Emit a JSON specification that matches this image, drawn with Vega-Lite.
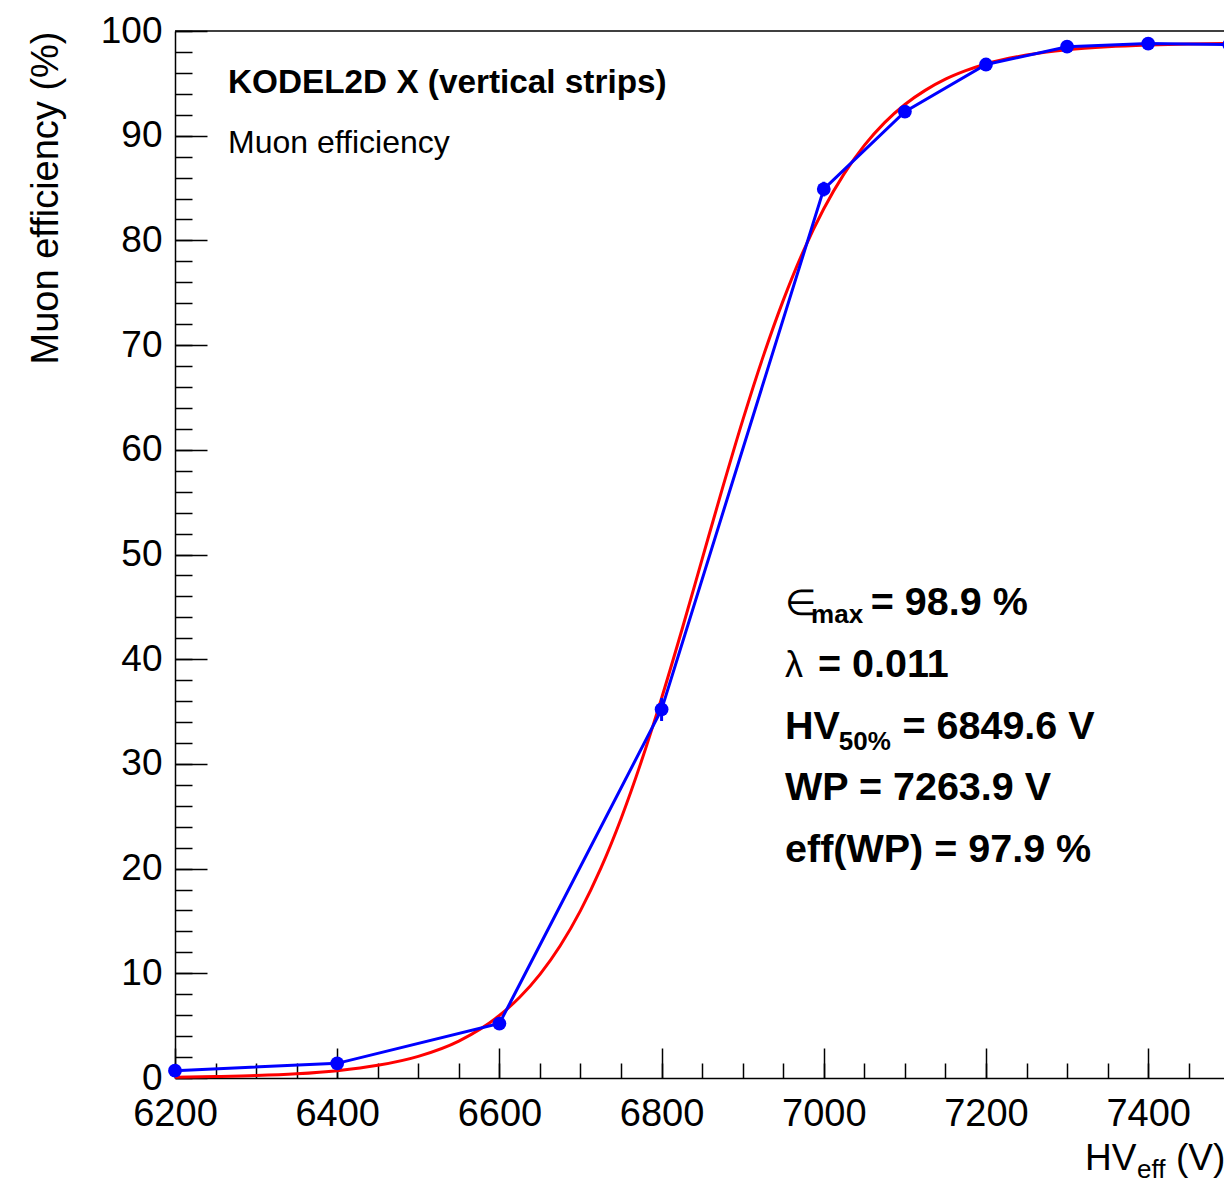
{
  "$schema": "https://vega.github.io/schema/vega-lite/v6.json",
  "autosize": "none",
  "width": 1049,
  "height": 1047,
  "padding": {"left": 175, "top": 31, "right": 0, "bottom": 104},
  "background": "white",
  "config": {
    "view": {"stroke": null},
    "font": "Liberation Sans",
    "axis": {"labelColor": "black", "titleColor": "black", "tickColor": "black", "domainColor": "black", "grid": false}
  },
  "datasets": {
    "fit": [
      {"hv": 6200, "eff": 0.08}, {"hv": 6250, "eff": 0.14}, {"hv": 6300, "eff": 0.23}, {"hv": 6350, "eff": 0.40},
      {"hv": 6400, "eff": 0.70}, {"hv": 6450, "eff": 1.21}, {"hv": 6500, "eff": 2.07}, {"hv": 6550, "eff": 3.53},
      {"hv": 6600, "eff": 5.97}, {"hv": 6625, "eff": 7.71}, {"hv": 6650, "eff": 9.90}, {"hv": 6675, "eff": 12.63},
      {"hv": 6700, "eff": 15.99}, {"hv": 6725, "eff": 20.02}, {"hv": 6750, "eff": 24.77}, {"hv": 6775, "eff": 30.22},
      {"hv": 6800, "eff": 36.28}, {"hv": 6825, "eff": 42.79}, {"hv": 6850, "eff": 49.56}, {"hv": 6875, "eff": 56.31},
      {"hv": 6900, "eff": 62.81}, {"hv": 6925, "eff": 68.85}, {"hv": 6950, "eff": 74.27}, {"hv": 6975, "eff": 79.01},
      {"hv": 7000, "eff": 83.02}, {"hv": 7025, "eff": 86.35}, {"hv": 7050, "eff": 89.07}, {"hv": 7075, "eff": 91.25},
      {"hv": 7100, "eff": 92.98}, {"hv": 7125, "eff": 94.33}, {"hv": 7150, "eff": 95.40}, {"hv": 7175, "eff": 96.21},
      {"hv": 7200, "eff": 96.85}, {"hv": 7250, "eff": 97.70}, {"hv": 7300, "eff": 98.21}, {"hv": 7350, "eff": 98.50},
      {"hv": 7400, "eff": 98.67}, {"hv": 7450, "eff": 98.77}, {"hv": 7500, "eff": 98.82}
    ],
    "meas": [
      {"hv": 6200, "eff": 0.7, "lo": 0.5, "hi": 0.9},
      {"hv": 6400, "eff": 1.4, "lo": 1.1, "hi": 1.7},
      {"hv": 6600, "eff": 5.2, "lo": 4.8, "hi": 5.6},
      {"hv": 6800, "eff": 35.2, "lo": 34.1, "hi": 36.3},
      {"hv": 7000, "eff": 84.9, "lo": 84.2, "hi": 85.6},
      {"hv": 7100, "eff": 92.3, "lo": 91.8, "hi": 92.8},
      {"hv": 7200, "eff": 96.8, "lo": 96.5, "hi": 97.1},
      {"hv": 7300, "eff": 98.5, "lo": 98.3, "hi": 98.7},
      {"hv": 7400, "eff": 98.8, "lo": 98.6, "hi": 99.0},
      {"hv": 7500, "eff": 98.7, "lo": 98.5, "hi": 98.9}
    ]
  },
  "resolve": {"axis": {"x": "independent", "y": "independent"}},
  "layer": [
    {
      "data": {"name": "fit"},
      "mark": {"type": "line", "color": "#ff0000", "strokeWidth": 3, "clip": false, "interpolate": "monotone"},
      "encoding": {
        "x": {"field": "hv", "type": "quantitative",
          "scale": {"domain": [6200, 7493.5], "nice": false, "zero": false},
          "axis": {"orient": "bottom", "values": [6200, 6400, 6600, 6800, 7000, 7200, 7400], "format": "d",
            "ticks": false, "tickSize": 0, "domain": true, "domainWidth": 1.5, "labelFontSize": 38,
            "labelPadding": 47, "labelBaseline": "alphabetic", "labelFlush": false, "labelOverlap": false, "title": null}},
        "y": {"field": "eff", "type": "quantitative",
          "scale": {"domain": [0, 100], "nice": false, "zero": false},
          "axis": {"orient": "left", "values": [0, 10, 20, 30, 40, 50, 60, 70, 80, 90, 100],
            "ticks": false, "tickSize": 0, "domain": true, "domainWidth": 1.5, "labelFontSize": 37,
            "labelPadding": 13, "labelFlush": false, "labelOverlap": false,
            "title": "Muon efficiency (%)", "titleFontSize": 38, "titleFontWeight": "normal",
            "titleX": -118, "titleY": 0, "titleAlign": "right", "titleAngle": -90, "titleBaseline": "alphabetic"}}
      }
    },
    {
      "data": {"name": "meas"},
      "mark": {"type": "line", "color": "#0000ff", "strokeWidth": 3, "clip": false},
      "encoding": {
        "x": {"field": "hv", "type": "quantitative",
          "axis": {"orient": "bottom", "values": [6200, 6400, 6600, 6800, 7000, 7200, 7400],
            "labels": false, "domain": false, "tickSize": -30, "tickWidth": 1.5, "title": null}},
        "y": {"field": "eff", "type": "quantitative",
          "axis": {"orient": "left", "values": [0, 10, 20, 30, 40, 50, 60, 70, 80, 90, 100],
            "labels": false, "domain": false, "tickSize": -32, "tickWidth": 1.5, "title": null}}
      }
    },
    {
      "data": {"name": "meas"},
      "mark": {"type": "rule", "color": "#0000ff", "strokeWidth": 3, "clip": false},
      "encoding": {
        "x": {"field": "hv", "type": "quantitative", "axis": null},
        "y": {"field": "lo", "type": "quantitative", "axis": null},
        "y2": {"field": "hi"}
      }
    },
    {
      "data": {"name": "meas"},
      "mark": {"type": "point", "filled": true, "shape": "circle", "color": "#0000ff", "size": 190, "opacity": 1, "clip": false},
      "encoding": {
        "x": {"field": "hv", "type": "quantitative",
          "axis": {"orient": "bottom", "values": [6200, 6250, 6300, 6350, 6400, 6450, 6500, 6550, 6600, 6650, 6700, 6750, 6800, 6850, 6900, 6950, 7000, 7050, 7100, 7150, 7200, 7250, 7300, 7350, 7400, 7450],
            "labels": false, "domain": false, "tickSize": -15, "tickWidth": 1.5, "title": null}},
        "y": {"field": "eff", "type": "quantitative",
          "axis": {"orient": "left", "values": [0, 2, 4, 6, 8, 10, 12, 14, 16, 18, 20, 22, 24, 26, 28, 30, 32, 34, 36, 38, 40, 42, 44, 46, 48, 50, 52, 54, 56, 58, 60, 62, 64, 66, 68, 70, 72, 74, 76, 78, 80, 82, 84, 86, 88, 90, 92, 94, 96, 98, 100],
            "labels": false, "domain": false, "tickSize": -17, "tickWidth": 1.5, "title": null}}
      }
    },
    {
      "data": {"values": [{"edge": "top"}]},
      "mark": {"type": "rule", "color": "black", "strokeWidth": 1.5},
      "encoding": {"y": {"datum": 100, "type": "quantitative", "axis": null}}
    },
    {
      "data": {"values": [{"hv": 6265.4, "eff": 94.08, "label": "KODEL2D X (vertical strips)"}]},
      "mark": {"type": "text", "align": "left", "baseline": "alphabetic", "fontSize": 33.3, "fontWeight": "bold", "color": "black"},
      "encoding": {"x": {"field": "hv", "type": "quantitative", "axis": null}, "y": {"field": "eff", "type": "quantitative", "axis": null}, "text": {"field": "label"}}
    },
    {
      "data": {"values": [{"hv": 6265.4, "eff": 88.35, "label": "Muon efficiency"}]},
      "mark": {"type": "text", "align": "left", "baseline": "alphabetic", "fontSize": 32, "color": "black"},
      "encoding": {"x": {"field": "hv", "type": "quantitative", "axis": null}, "y": {"field": "eff", "type": "quantitative", "axis": null}, "text": {"field": "label"}}
    },
    {
      "data": {"values": [
        {"hv": 7058.0, "eff": 44.22, "label": "= 98.9 %"},
        {"hv": 6992.9, "eff": 38.30, "label": "= 0.011"},
        {"hv": 6952.2, "eff": 32.38, "label": "HV"},
        {"hv": 7097.0, "eff": 32.38, "label": "= 6849.6 V"},
        {"hv": 6952.2, "eff": 26.55, "label": "WP = 7263.9 V"},
        {"hv": 6952.2, "eff": 20.63, "label": "eff(WP) = 97.9 %"}
      ]},
      "mark": {"type": "text", "align": "left", "baseline": "alphabetic", "fontSize": 39.5, "fontWeight": "bold", "color": "black"},
      "encoding": {"x": {"field": "hv", "type": "quantitative", "axis": null}, "y": {"field": "eff", "type": "quantitative", "axis": null}, "text": {"field": "label"}}
    },
    {
      "data": {"values": [
        {"hv": 6952.2, "eff": 44.22, "label": "∈"},
        {"hv": 6952.2, "eff": 38.30, "label": "λ"}
      ]},
      "mark": {"type": "text", "align": "left", "baseline": "alphabetic", "fontSize": 36, "color": "black"},
      "encoding": {"x": {"field": "hv", "type": "quantitative", "axis": null}, "y": {"field": "eff", "type": "quantitative", "axis": null}, "text": {"field": "label"}}
    },
    {
      "data": {"values": [
        {"hv": 6984.3, "eff": 43.46, "label": "max"},
        {"hv": 7018.5, "eff": 31.33, "label": "50%"}
      ]},
      "mark": {"type": "text", "align": "left", "baseline": "alphabetic", "fontSize": 26, "fontWeight": "bold", "color": "black"},
      "encoding": {"x": {"field": "hv", "type": "quantitative", "axis": null}, "y": {"field": "eff", "type": "quantitative", "axis": null}, "text": {"field": "label"}}
    },
    {
      "data": {"values": [
        {"hv": 7322.1, "eff": -8.79, "label": "HV"},
        {"hv": 7434.3, "eff": -8.79, "label": "(V)"}
      ]},
      "mark": {"type": "text", "align": "left", "baseline": "alphabetic", "fontSize": 37, "color": "black"},
      "encoding": {"x": {"field": "hv", "type": "quantitative", "axis": null}, "y": {"field": "eff", "type": "quantitative", "axis": null}, "text": {"field": "label"}}
    },
    {
      "data": {"values": [{"hv": 7386.2, "eff": -9.55, "label": "eff"}]},
      "mark": {"type": "text", "align": "left", "baseline": "alphabetic", "fontSize": 26, "color": "black"},
      "encoding": {"x": {"field": "hv", "type": "quantitative", "axis": null}, "y": {"field": "eff", "type": "quantitative", "axis": null}, "text": {"field": "label"}}
    }
  ]
}
